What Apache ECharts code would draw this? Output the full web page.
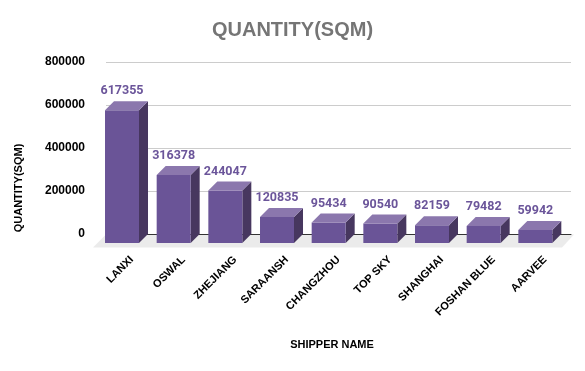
<!DOCTYPE html>
<html>
<head>
<meta charset="utf-8">
<script src="https://cdn.jsdelivr.net/npm/echarts@6/dist/echarts.min.js"></script>
<style>html,body{margin:0;padding:0;background:#fff;}#c{width:585px;height:371px;}</style>
</head>
<body>
<div id="c"></div>
<script>
const categories = ['LANXI', 'OSWAL', 'ZHEJIANG', 'SARAANSH', 'CHANGZHOU', 'TOP SKY', 'SHANGHAI', 'FOSHAN BLUE', 'AARVEE'];
const values = [617355, 316378, 244047, 120835, 95434, 90540, 82159, 79482, 59942];
const yMin = 0, yMax = 800000, yInterval = 200000;
const chartTitle = 'QUANTITY(SQM)';
const yTitle = 'QUANTITY(SQM)';
const xTitle = 'SHIPPER NAME';

const FRONT = '#6a5497', TOP = '#8b77ad', SIDE = '#47375f', LABEL = '#6b559a';
const DEPTH = 9;

const chart = echarts.init(document.getElementById('c'), null, {renderer: 'canvas'});
chart.setOption({
  animation: false,
  backgroundColor: '#ffffff',
  grid: {left: 106, right: 14, top: 62, bottom: 137, containLabel: false},
  xAxis: {
    type: 'category', data: categories,
    axisTick: {show: false},
    axisLine: {lineStyle: {color: '#333333', width: 1}},
    axisLabel: {interval: 0, rotate: 45, margin: 24, color: '#000', fontWeight: 'bold', fontSize: 11, fontFamily: 'Liberation Sans, Arial, sans-serif'}
  },
  yAxis: {
    type: 'value', min: yMin, max: yMax, interval: yInterval,
    axisLine: {show: false}, axisTick: {show: false},
    splitLine: {lineStyle: {color: '#cccccc', width: 1}},
    axisLabel: {margin: 21, color: '#000', fontWeight: 'bold', fontSize: 12, fontFamily: 'Liberation Sans, Arial, sans-serif', formatter: function (v) { return String(v); }}
  },
  graphic: [
    {type: 'text', left: 'center', top: 20, style: {text: chartTitle, fill: '#757575', font: 'bold 20px "Liberation Sans", Arial, sans-serif'}},
    {type: 'text', x: 19, y: 188, rotation: Math.PI / 2, style: {text: yTitle, fill: '#000', align: 'center', verticalAlign: 'middle', font: 'bold 11px "Liberation Sans", Arial, sans-serif'}},
    {type: 'text', x: 332, y: 345, style: {text: xTitle, fill: '#000', align: 'center', verticalAlign: 'middle', font: 'bold 11px "Liberation Sans", Arial, sans-serif'}}
  ],
  series: [
    {
      type: 'custom', z: -1, silent: true,
      data: [[0]],
      renderItem: function (params, api) {
        const cs = params.coordSys;
        const y0 = cs.y + cs.height + 0.5;
        const x0 = cs.x, x1 = cs.x + cs.width + 3;
        return {type: 'polygon', shape: {points: [[x0, y0], [x1, y0], [x1 - 12, y0 + 13], [x0 - 13, y0 + 13]]}, style: {fill: '#ebebeb'}};
      }
    },
    {
      type: 'custom',
      data: values.map((v, i) => [i, v]),
      encode: {x: 0, y: 1},
      renderItem: function (params, api) {
        const i = api.value(0), v = api.value(1);
        const top = api.coord([i, v]);
        const base = api.coord([i, 0]);
        const band = api.size([1, 0])[0];
        const w = band * 0.658;
        const bl = top[0] - band * 0.345;
        const br = bl + w;
        const t = top[1], b = base[1];
        const d = DEPTH;
        return {
          type: 'group',
          children: [
            {type: 'polygon', shape: {points: [[br - d, t + d], [br, t], [br, b], [br - d, b + d]]}, style: {fill: SIDE}},
            {type: 'rect', shape: {x: bl - d, y: t + d, width: w, height: b - t}, style: {fill: FRONT}},
            {type: 'polygon', shape: {points: [[bl - d, t + d], [bl, t], [br, t], [br - d, t + d]]}, style: {fill: TOP}},
            {type: 'text', x: bl - d + w / 2, y: t - 10, style: {text: String(v), fill: LABEL, align: 'center', verticalAlign: 'middle', font: 'bold 12.5px Roboto, sans-serif'}}
          ]
        };
      }
    }
  ]
});
</script>
</body>
</html>
